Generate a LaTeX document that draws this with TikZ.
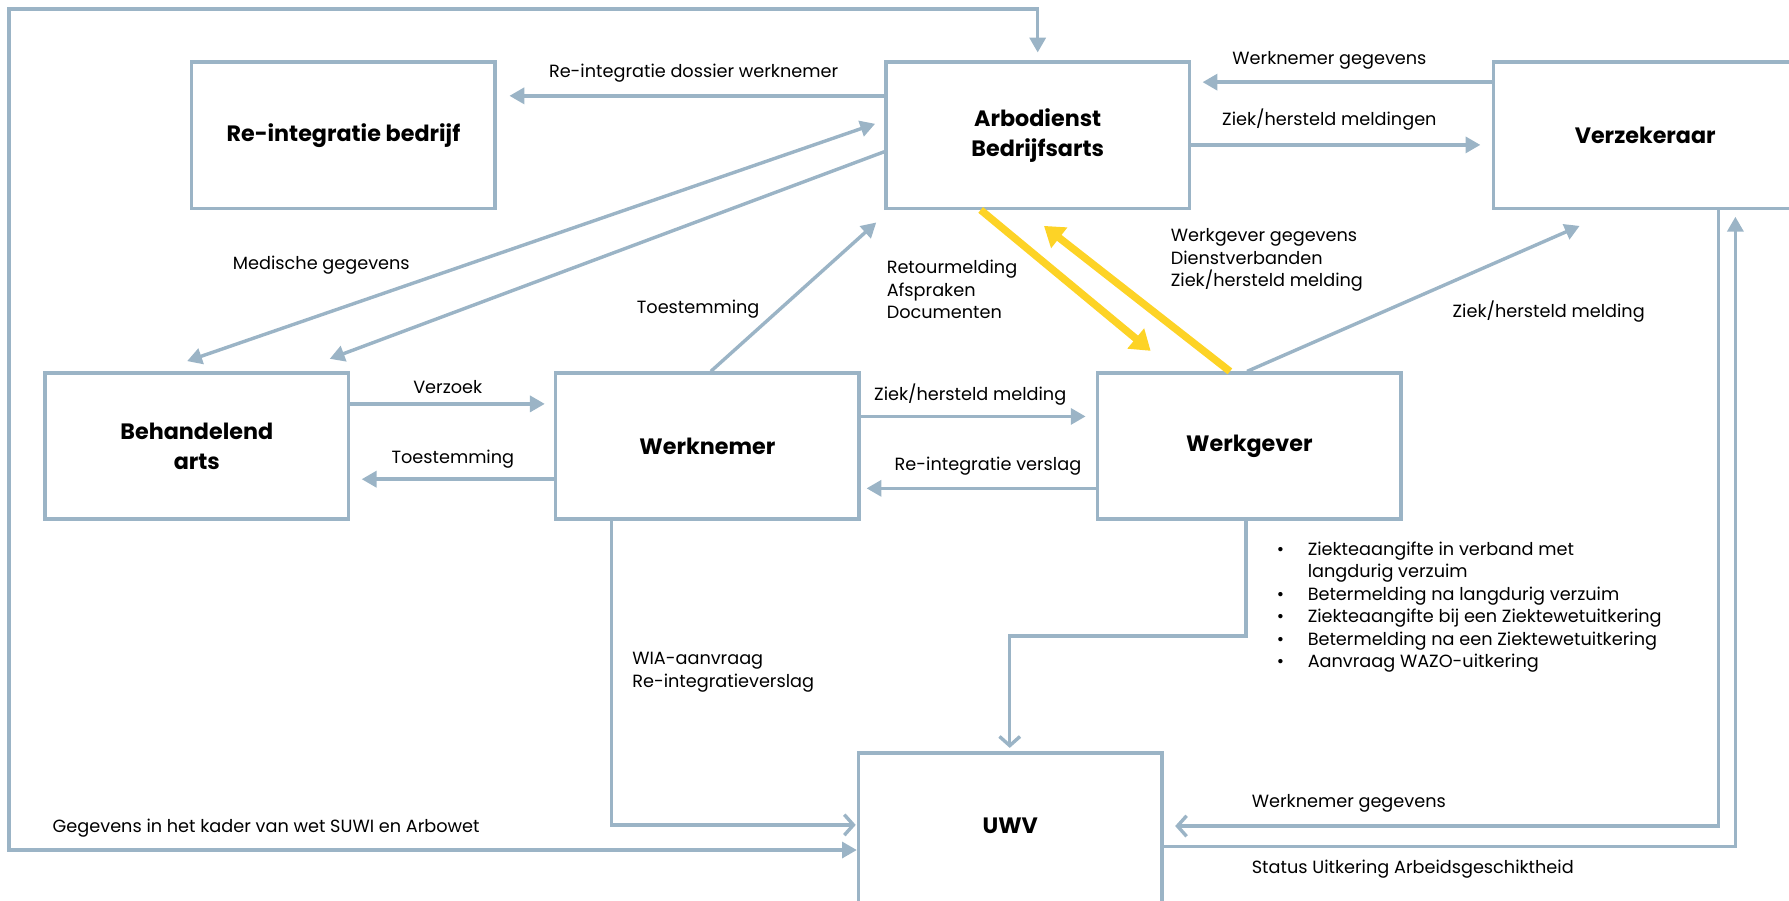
\documentclass[tikz,border=0pt]{standalone}
\usepackage{fontspec}
\setmainfont{Poppins}
\usetikzlibrary{arrows.meta,calc}
\definecolor{ln}{HTML}{9BB4C6}
\definecolor{yl}{HTML}{FDD326}
\begin{document}
\begin{tikzpicture}[x=1pt,y=-1pt,
  box/.style={draw=ln,line width=3pt,minimum width=266pt,minimum height=128pt,inner sep=0pt,align=center,font=\fontsize{19.5}{26.5}\selectfont\bfseries},
  lbl/.style={font=\fontsize{15.5}{19.7}\selectfont,inner sep=0pt,anchor=west,align=left},
  con/.style={draw=ln,line width=3pt},
  arr/.style={con,-{Triangle[length=13pt,width=14pt]}},
  darr/.style={con,{Triangle[length=13pt,width=14pt]}-{Triangle[length=13pt,width=14pt]}},
  oarr/.style={con,-{Straight Barb[length=8pt,width=18pt,line width=3pt]}},
  yarr/.style={draw=yl,line width=6.5pt,-{Triangle[length=17pt,width=22pt]}}
]
\useasboundingbox (0,0) rectangle (1568,789);
% boxes
\node[box] (rb) at (301,118.5) {Re-integratie bedrijf};
\node[box] (ab) at (909.5,118.5) {Arbodienst\\Bedrijfsarts};
\node[box] (vz) at (1442,118.5) {Verzekeraar};
\node[box] (ba) at (172.5,391) {Behandelend\\arts};
\node[box] (wn) at (620,391) {Werknemer};
\node[box] (wg) at (1095,391) {Werkgever};
\node[box,minimum height=136pt] (uwv) at (885.5,728) {};
\node[inner sep=0pt,font=\fontsize{19.5}{26.5}\selectfont\bfseries] (uwvt) at (885.5,724) {UWV};

% outer loop
\draw[darr,shorten <=7pt] (ab.north) |- (8,8) |- (uwv.west |- 0,745);
\node[lbl] (l1) at (46,726) {Gegevens in het kader van wet SUWI en Arbowet};

% top row
\draw[arr,shorten >=11pt] (ab.west |- 0,84) -- (rb.east |- 0,84);
\node[lbl] (l2) at (481,64) {Re-integratie dossier werknemer};
\draw[arr,shorten >=10pt] (vz.west |- 0,72) -- (ab.east |- 0,72);
\node[lbl] (l3) at (1080,53) {Werknemer gegevens};
\draw[arr,shorten >=10pt] (ab.east |- 0,127) -- (vz.west |- 0,127);
\node[lbl] (l4) at (1071,105) {Ziek/hersteld meldingen};

% medische gegevens
\draw[darr] ($(ba.north west)+(126,-9)$) -- ($(ab.west)+(-8,-10)$);
\draw[arr] ($(ab.west)+(0,14.5)$) -- ($(ba.north west)+(251,-11)$);
\node[lbl] (l5) at (204,232) {Medische gegevens};

% werknemer -> arbo
\draw[arr] ($(wn.north)+(3,0)$) -- ($(ab.south west)+(-7,11)$);
\node[lbl] (l6) at (558,271) {Toestemming};

% yellow
\draw[yarr] ($(ab.south)+(-50,0)$) -- ($(wg.north west)+(48,-18)$);
\draw[yarr] ($(wg.north)+(-17,0)$) -- ($(ab.south)+(5.5,14)$);
\node[lbl] (l7) at (777,254) {Retourmelding\\Afspraken\\Documenten};
\node[lbl] (l8) at (1026,228) {Werkgever gegevens\\Dienstverbanden\\Ziek/hersteld melding};

% werkgever -> verzekeraar
\draw[arr] ($(wg.north)+(-2,0)$) -- ($(vz.south west)+(77,14)$);
\node[lbl] (l9) at (1273,273) {Ziek/hersteld melding};

% middle row
\draw[arr,shorten >=8pt] (ba.east |- 0,354) -- (wn.west |- 0,354);
\node[lbl] (l10) at (362,339) {Verzoek};
\draw[arr,shorten >=10pt] (wn.west |- 0,420) -- (ba.east |- 0,420);
\node[lbl] (l11) at (343,402) {Toestemming};
\draw[arr,shorten >=9pt] (wn.east |- 0,365) -- (wg.west |- 0,365);
\node[lbl] (l12) at (766,346) {Ziek/hersteld melding};
\draw[arr,shorten >=5pt] (wg.west |- 0,428) -- (wn.east |- 0,428);
\node[lbl] (l13) at (784,409) {Re-integratie verslag};

% to UWV
\draw[oarr,shorten >=1pt] (wn.south -| 536,0) |- (uwv.west |- 0,723);
\node[lbl] (l14) at (554,589) {WIA-aanvraag\\Re-integratieverslag};
\draw[oarr,shorten >=3pt] (wg.south -| 1092,0) |- (885,557.5) -- (uwv.north -| 885,0);
\node[lbl] (l15) at (1119,532) {%
\makebox[27pt][l]{\textbullet}Ziekteaangifte in verband met\\
\makebox[27pt][l]{}langdurig verzuim\\
\makebox[27pt][l]{\textbullet}Betermelding na langdurig verzuim\\
\makebox[27pt][l]{\textbullet}Ziekteaangifte bij een Ziektewetuitkering\\
\makebox[27pt][l]{\textbullet}Betermelding na een Ziektewetuitkering\\
\makebox[27pt][l]{\textbullet}Aanvraag WAZO-uitkering};
\draw[oarr,shorten >=10pt] (vz.south -| 1506,0) |- (uwv.east |- 0,724);
\node[lbl] (l16) at (1097,704) {Werknemer gegevens};
\draw[arr,shorten >=6pt] (uwv.east |- 0,742) -| (vz.south -| 1521,0);
\node[lbl] (l17) at (1097,762) {Status Uitkering Arbeidsgeschiktheid};
\end{tikzpicture}
\end{document}
